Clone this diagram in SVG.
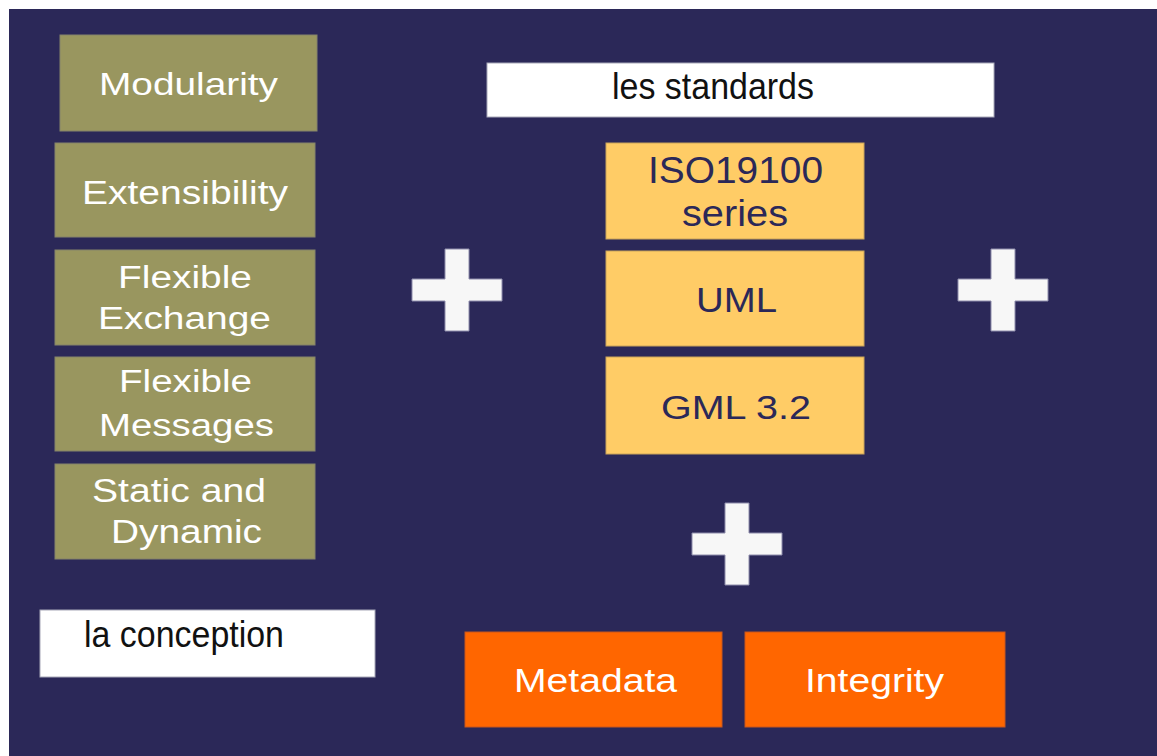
<svg xmlns="http://www.w3.org/2000/svg" width="1157" height="756" viewBox="0 0 1157 756">
  <style>
    .bg { fill: #2b2858; }
    .olive { fill: #99965f; stroke: #85836a; stroke-width: 1; }
    .gold { fill: #ffcc66; stroke: #c9a35a; stroke-width: 1; }
    .orange { fill: #ff6600; stroke: #c8561c; stroke-width: 1; }
    .label { fill: #ffffff; stroke: #a8a8b8; stroke-width: 1; }
    .plus { fill: #f7f7f7; stroke: #8e8cab; stroke-width: 1; }
    text { font-family: "Liberation Sans", Arial, sans-serif; }
    .light { fill: #ffffff; }
    .navy { fill: #2b2858; }
    .dark { fill: #111111; }
  </style>

  <!-- page -->
  <rect x="0" y="0" width="1157" height="756" fill="#ffffff"/>
  <rect class="bg" x="9" y="9" width="1148" height="747"/>

  <!-- design qualities column -->
  <g id="modularity">
    <rect class="olive" x="60" y="35" width="257" height="96"/>
    <text class="light" x="99" y="95" font-size="32" textLength="179" lengthAdjust="spacingAndGlyphs">Modularity</text>
  </g>
  <g id="extensibility">
    <rect class="olive" x="55" y="143" width="260" height="94"/>
    <text class="light" x="82" y="204" font-size="33" textLength="206" lengthAdjust="spacingAndGlyphs">Extensibility</text>
  </g>
  <g id="flexible-exchange">
    <rect class="olive" x="55" y="250" width="260" height="95"/>
    <text class="light" x="118" y="288" font-size="31" textLength="134" lengthAdjust="spacingAndGlyphs">Flexible</text>
    <text class="light" x="98" y="329" font-size="31" textLength="173" lengthAdjust="spacingAndGlyphs">Exchange</text>
  </g>
  <g id="flexible-messages">
    <rect class="olive" x="55" y="357" width="260" height="94"/>
    <text class="light" x="119" y="392" font-size="31" textLength="133" lengthAdjust="spacingAndGlyphs">Flexible</text>
    <text class="light" x="99" y="436" font-size="31" textLength="175" lengthAdjust="spacingAndGlyphs">Messages</text>
  </g>
  <g id="static-dynamic">
    <rect class="olive" x="55" y="464" width="260" height="95"/>
    <text class="light" x="92" y="502" font-size="33" textLength="174" lengthAdjust="spacingAndGlyphs">Static and</text>
    <text class="light" x="111" y="543" font-size="33" textLength="151" lengthAdjust="spacingAndGlyphs">Dynamic</text>
  </g>
  <g id="la-conception">
    <rect class="label" x="40" y="610" width="335" height="67"/>
    <text class="dark" x="84" y="647" font-size="36" textLength="200" lengthAdjust="spacingAndGlyphs">la conception</text>
  </g>

  <!-- standards column -->
  <g id="les-standards">
    <rect class="label" x="487" y="63" width="507" height="54"/>
    <text class="dark" x="612" y="99" font-size="37" textLength="202" lengthAdjust="spacingAndGlyphs">les standards</text>
  </g>
  <g id="iso19100">
    <rect class="gold" x="606" y="143" width="258" height="96"/>
    <text class="navy" x="648" y="183" font-size="36" textLength="175" lengthAdjust="spacingAndGlyphs">ISO19100</text>
    <text class="navy" x="682" y="226" font-size="36" textLength="106" lengthAdjust="spacingAndGlyphs">series</text>
  </g>
  <g id="uml">
    <rect class="gold" x="606" y="251" width="258" height="95"/>
    <text class="navy" x="696" y="312" font-size="35" textLength="81" lengthAdjust="spacingAndGlyphs">UML</text>
  </g>
  <g id="gml">
    <rect class="gold" x="606" y="357" width="258" height="97"/>
    <text class="navy" x="661" y="419" font-size="33" textLength="150" lengthAdjust="spacingAndGlyphs">GML 3.2</text>
  </g>

  <!-- supporting blocks -->
  <g id="metadata">
    <rect class="orange" x="465" y="632" width="257" height="95"/>
    <text class="light" x="514" y="692" font-size="33" textLength="163" lengthAdjust="spacingAndGlyphs">Metadata</text>
  </g>
  <g id="integrity">
    <rect class="orange" x="745" y="632" width="260" height="95"/>
    <text class="light" x="805" y="692" font-size="33" textLength="139" lengthAdjust="spacingAndGlyphs">Integrity</text>
  </g>

  <!-- plus operators between the blocks (no connector lines) -->
  <defs>
    <path id="plus-sign" d="M-12,-41 H12 V-11 H45 V11 H12 V41 H-12 V11 H-45 V-11 H-12 Z"/>
  </defs>
  <g id="connectors">
    <use href="#plus-sign" class="plus" x="457" y="290"/>
    <use href="#plus-sign" class="plus" x="1003" y="290"/>
    <use href="#plus-sign" class="plus" x="737" y="544"/>
  </g>
</svg>
